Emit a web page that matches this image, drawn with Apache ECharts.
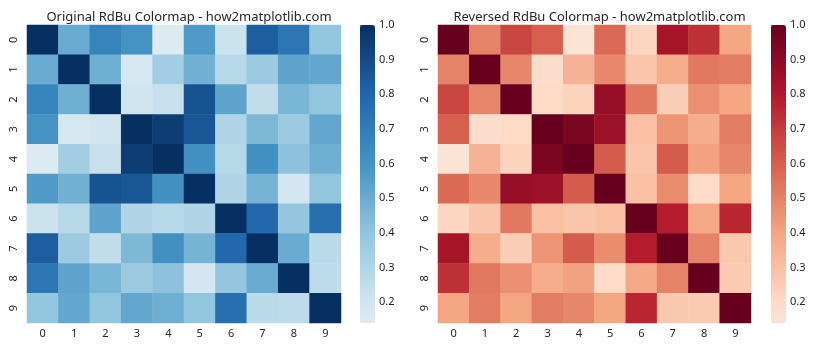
<!DOCTYPE html>
<html>
<head>
<meta charset="utf-8">
<script src="https://cdn.jsdelivr.net/npm/echarts@6/dist/echarts.min.js"></script>
<style>html,body{margin:0;padding:0;background:#fff}#c{width:840px;height:350px}</style>
</head>
<body>
<div id="c"></div>
<script>
// ---- data ----
const categories = ['0','1','2','3','4','5','6','7','8','9'];
const row0 = [1.00, 0.50, 0.67, 0.60, 0.14, 0.57, 0.22, 0.83, 0.73, 0.40];
const row1 = [0.50, 1.00, 0.49, 0.18, 0.35, 0.48, 0.28, 0.37, 0.53, 0.52];
const row2 = [0.67, 0.49, 1.00, 0.20, 0.23, 0.87, 0.53, 0.25, 0.46, 0.40];
const row3 = [0.60, 0.18, 0.20, 1.00, 0.95, 0.86, 0.30, 0.45, 0.37, 0.52];
const row4 = [0.14, 0.35, 0.23, 0.95, 1.00, 0.61, 0.28, 0.61, 0.41, 0.49];
const row5 = [0.57, 0.48, 0.87, 0.86, 0.61, 1.00, 0.30, 0.47, 0.19, 0.40];
const row6 = [0.22, 0.28, 0.53, 0.30, 0.28, 0.30, 1.00, 0.79, 0.39, 0.76];
const row7 = [0.83, 0.37, 0.25, 0.45, 0.61, 0.47, 0.79, 1.00, 0.50, 0.27];
const row8 = [0.73, 0.53, 0.46, 0.37, 0.41, 0.19, 0.39, 0.50, 1.00, 0.26];
const row9 = [0.40, 0.52, 0.40, 0.52, 0.49, 0.40, 0.76, 0.27, 0.26, 1.00];
const colorbarTicks = [0.2, 0.3, 0.4, 0.5, 0.6, 0.7, 0.8, 0.9, 1.0];
const titleLeft = 'Original RdBu Colormap - how2matplotlib.com';
const titleRight = 'Reversed RdBu Colormap - how2matplotlib.com';

// ---- build ----
const rows = [row0,row1,row2,row3,row4,row5,row6,row7,row8,row9];
const cells = [];
rows.forEach((r, yi) => r.forEach((v, xi) => cells.push([xi, yi, v])));
const vmin = Math.min(...rows.flat());
const vmax = Math.max(...rows.flat());

const RDBU = ['#67001f','#b2182b','#d6604d','#f4a582','#fddbc7','#f7f7f7','#d1e5f0','#92c5de','#4393c3','#2166ac','#053061'];
function hex2rgb(h){return [parseInt(h.substr(1,2),16),parseInt(h.substr(3,2),16),parseInt(h.substr(5,2),16)];}
function rdbu(p){
  p = Math.max(0, Math.min(1, p));
  const f = p * 10, i = Math.min(9, Math.floor(f)), t = f - i;
  const a = hex2rgb(RDBU[i]), b = hex2rgb(RDBU[i+1]);
  const c = a.map((x, k) => Math.round(x + (b[k] - x) * t));
  return 'rgb(' + c.join(',') + ')';
}
// seaborn center=0: value v -> colormap position (v+1)/2
const N = 40;
const colorsOrig = [], colorsRev = [];
for (let k = 0; k <= N; k++) {
  const v = vmin + (vmax - vmin) * k / N;
  const p = (v + 1) / 2;
  colorsOrig.push(rdbu(p));
  colorsRev.push(rdbu(1 - p));
}

const FONT = 'Noto Sans';
const txt = '#262626';
const H = {left: 27, top: 25, w: 314, h: 298};
const H2 = {left: 438, top: 25, w: 313, h: 298};
const CB1 = {left: 360, top: 25, w: 15, h: 298};
const CB2 = {left: 771, top: 25, w: 15, h: 298};

function heatAxes(gi){
  return {
    x: {type:'category', data:categories, gridIndex:gi, position:'bottom',
        axisLine:{show:false}, splitArea:{show:false},
        axisTick:{alignWithLabel:true, length:3.5, lineStyle:{color:txt, width:0.8}},
        axisLabel:{color:txt, fontSize:11, fontFamily:FONT, margin:5}},
    y: {type:'category', data:categories, gridIndex:gi, inverse:true,
        axisLine:{show:false}, splitArea:{show:false},
        axisTick:{alignWithLabel:true, length:3.5, lineStyle:{color:txt, width:0.8}},
        axisLabel:{color:txt, fontSize:11, fontFamily:FONT, rotate:90, margin:8}}
  };
}
function cbAxes(gi){
  return {
    x: {type:'value', gridIndex:gi, show:false, min:0, max:1},
    y: {type:'value', gridIndex:gi, position:'right', min:vmin, max:vmax,
        axisLine:{show:false}, splitLine:{show:false},
        axisTick:{show:true, length:3.5, customValues:colorbarTicks, lineStyle:{color:txt, width:0.8}},
        axisLabel:{color:txt, fontSize:11, fontFamily:FONT, margin:4, customValues:colorbarTicks,
                   formatter:(v)=>Number(v).toFixed(1)}}
  };
}
const a0 = heatAxes(0), a1 = heatAxes(1), c2 = cbAxes(2), c3 = cbAxes(3);

const option = {
  animation:false,
  backgroundColor:'#fff',
  textStyle:{fontFamily:FONT},
  title:[
    {text:titleLeft, left:H.left + H.w/2, top:6, textAlign:'center',
     textStyle:{fontSize:13, fontWeight:'normal', color:txt, fontFamily:FONT}},
    {text:titleRight, left:H2.left + H2.w/2, top:6, textAlign:'center',
     textStyle:{fontSize:13, fontWeight:'normal', color:txt, fontFamily:FONT}}
  ],
  grid:[
    {left:H.left, top:H.top, width:H.w, height:H.h},
    {left:H2.left, top:H2.top, width:H2.w, height:H2.h},
    {left:CB1.left, top:CB1.top, width:CB1.w, height:CB1.h},
    {left:CB2.left, top:CB2.top, width:CB2.w, height:CB2.h}
  ],
  xAxis:[a0.x, a1.x, c2.x, c3.x],
  yAxis:[a0.y, a1.y, c2.y, c3.y],
  visualMap:[
    {type:'continuous', seriesIndex:0, min:vmin, max:vmax, calculable:false, realtime:false,
     left:CB1.left, top:CB1.top, itemWidth:CB1.w, itemHeight:CB1.h, padding:0, text:null, showLabel:false,
     inRange:{color:colorsOrig}},
    {type:'continuous', seriesIndex:1, min:vmin, max:vmax, calculable:false, realtime:false,
     left:CB2.left, top:CB2.top, itemWidth:CB2.w, itemHeight:CB2.h, padding:0, text:null, showLabel:false,
     inRange:{color:colorsRev}}
  ],
  series:[
    {type:'heatmap', xAxisIndex:0, yAxisIndex:0, data:cells, itemStyle:{borderWidth:0}, emphasis:{disabled:true}},
    {type:'heatmap', xAxisIndex:1, yAxisIndex:1, data:cells, itemStyle:{borderWidth:0}, emphasis:{disabled:true}}
  ]
};
const chart = echarts.init(document.getElementById('c'), null, {renderer:'canvas'});
chart.setOption(option);
</script>
</body>
</html>
